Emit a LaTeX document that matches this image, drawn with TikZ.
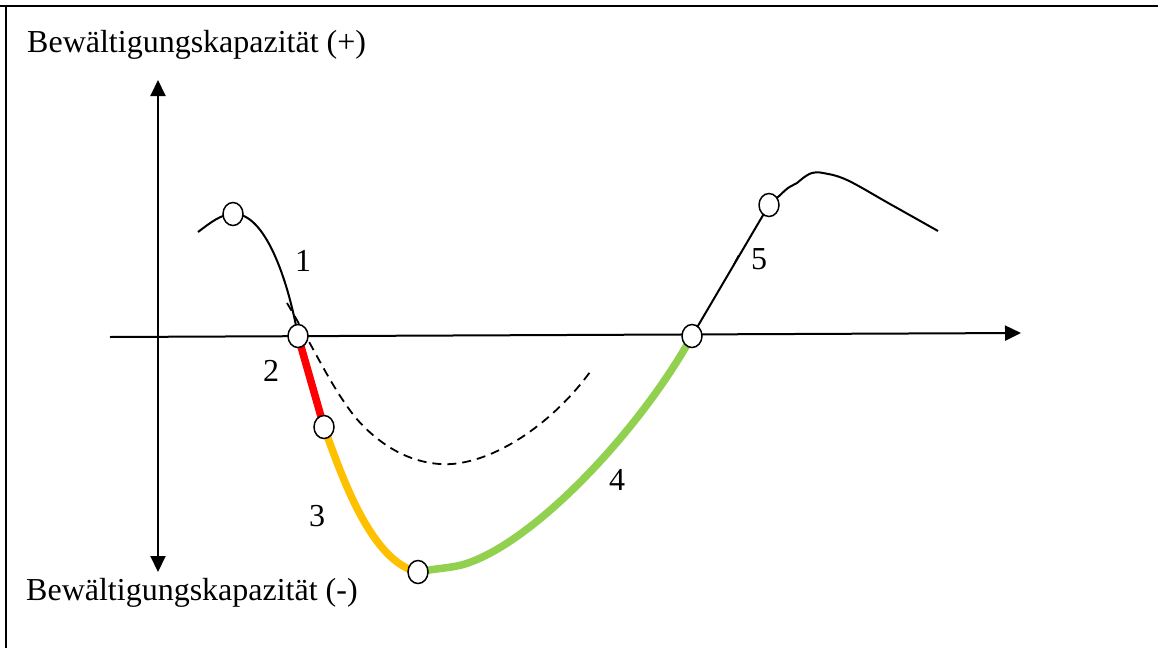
\documentclass[tikz,border=0pt]{standalone}
\usepackage{fontspec}
\setmainfont{Liberation Serif}
\usetikzlibrary{shapes.geometric,arrows.meta}
\pgfdeclarelayer{bg}
\pgfsetlayers{bg,main}
\definecolor{redseg}{HTML}{FF0000}
\definecolor{orangeseg}{HTML}{FFC000}
\definecolor{greenseg}{HTML}{92D050}
\begin{document}
\begin{tikzpicture}[x=1pt,y=-1pt,
  pt/.style={ellipse, draw, fill=white, line width=1.5pt, minimum width=20pt, minimum height=23pt, inner sep=0pt},
  lbl/.style={font=\fontsize{32}{38}\selectfont, inner sep=0pt},
  curveline/.style={line width=2pt},
  thick seg/.style={line width=7.5pt},
  dashline/.style={line width=1.8pt, dash pattern=on 9pt off 6pt},
  axisline/.style={line width=2pt},
  tip/.tip={Triangle[length=16pt,width=15pt]},
]
\useasboundingbox (0,0) rectangle (1158,648);
% frame
\draw[line width=2pt] (0,6) -- (1158,6);
\draw[line width=2pt] (6,5) -- (6,648);

% titles
\node[lbl, anchor=base west] (tplus) at (27,52) {Bewältigungskapazität (+)};
\node[lbl, anchor=base west] (tminus) at (26,600) {Bewältigungskapazität (-)};

% axes
\coordinate (vtop) at (158,80);
\coordinate (vbot) at (158,572);
\coordinate (hleft) at (110,337);
\coordinate (hright) at (1021,333);
\draw[axisline, tip-tip] (vtop) -- (vbot);
\draw[axisline, -tip] (hleft) -- (hright);

% points
\node[pt] (c1) at (233,214) {};
\node[pt] (c2) at (298,336) {};
\node[pt] (c3) at (324,427) {};
\node[pt] (c4) at (418,572) {};
\node[pt] (c5) at (692,336) {};
\node[pt] (c6) at (769,205) {};

% labels
\node[lbl] (l1) at (303,261) {1};
\node[lbl] (l2) at (271,371) {2};
\node[lbl] (l3) at (317,516) {3};
\node[lbl] (l4) at (617,480) {4};
\node[lbl] (l5) at (759,259) {5};

\begin{pgfonlayer}{bg}
% dashed reference curve
\draw[dashline] (287,303) .. controls (315,350) and (330,385) .. (355,417)
  .. controls (385,452) and (420,466) .. (452,464)
  .. controls (500,460) and (555,420) .. (590,372);
% left black curve
\draw[curveline] (198,232) .. controls (210,223) and (221,214) .. (c1.center)
  .. controls (265,212) and (288,280) .. (c2.center);
% red
\draw[thick seg, redseg] (c2.center) -- (c3.center);
% orange
\draw[thick seg, orangeseg] (c3.center) .. controls (343,480) and (372,562) .. (c4.center);
% green
\draw[thick seg, greenseg, line join=round] (c4.center) .. controls (438,568) and (452,568) .. (465,564)
  .. controls (535,542) and (640,430) .. (c5.center);
% line 5
\draw[curveline] (c5.center) -- (c6.center);
\draw[line width=1.4pt] (734,264) -- (738.5,255.5);
% right black curve
\draw[curveline] plot[smooth, tension=0.6] coordinates {(c6.center) (778,197) (788,188) (797,183) (803,178) (812,173) (823,173) (847,180) (890,204) (938,231)};
\end{pgfonlayer}
\end{tikzpicture}
\end{document}
